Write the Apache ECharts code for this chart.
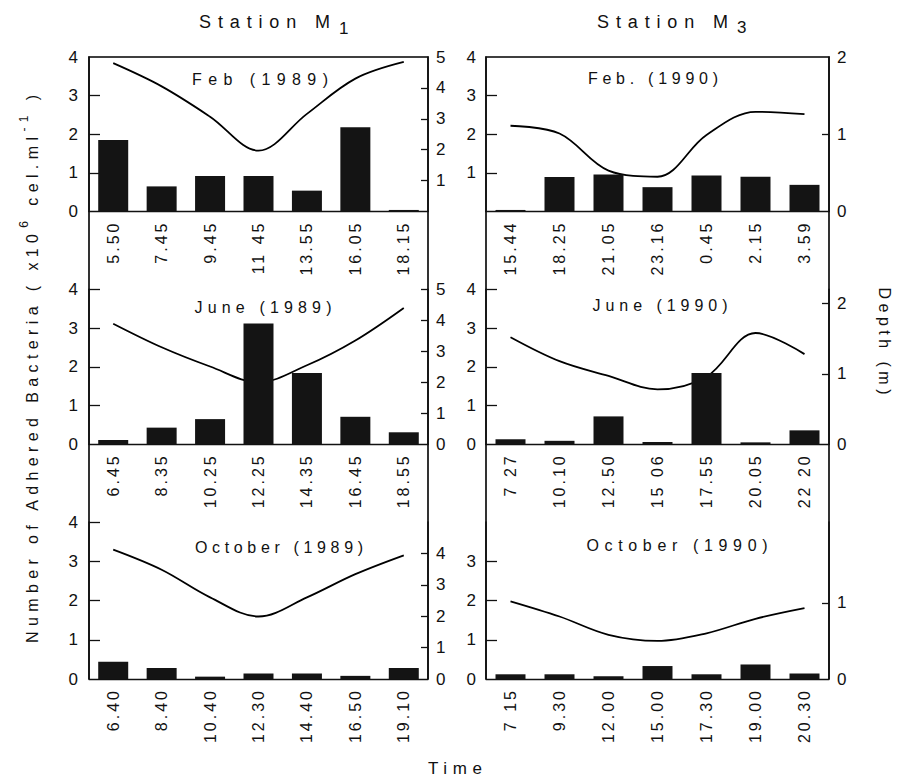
<!DOCTYPE html>
<html>
<head>
<meta charset="utf-8">
<title>Adhered bacteria and depth</title>
<script src="https://cdn.jsdelivr.net/npm/echarts@6.0.0/dist/echarts.min.js"></script>
<style>
html,body{margin:0;padding:0;background:#fff;}
#main{width:905px;height:779px;}
</style>
</head>
<body>
<div id="main"></div>
<script>
// ---------------- data ----------------
const timesM1Feb = ['5.50', '7.45', '9.45', '11 45', '13.55', '16.05', '18.15'];
const bactM1Feb  = [1.85, 0.65, 0.92, 0.92, 0.54, 2.18, 0.04];
const depthM1Feb = [4.8, 4.05, 3.07, 1.97, 3.16, 4.3, 4.84];

const timesM3Feb = ['15.44', '18.25', '21.05', '23.16', '0.45', '2.15', '3.59'];
const bactM3Feb  = [0.04, 0.89, 0.96, 0.63, 0.93, 0.90, 0.69];
const depthM3Feb = [1.11, 1.01, 0.53, 0.45, 0.99, 1.29, 1.26];

const timesM1Jun = ['6.45', '8.35', '10.25', '12.25', '14.35', '16.45', '18.55'];
const bactM1Jun  = [0.11, 0.43, 0.65, 3.12, 1.84, 0.71, 0.31];
const depthM1Jun = [3.89, 3.13, 2.51, 2.0, 2.55, 3.35, 4.4];

const timesM3Jun = ['7 27', '10.10', '12.50', '15 06', '17.55', '20.05', '22 20'];
const bactM3Jun  = [0.13, 0.09, 0.72, 0.06, 1.84, 0.05, 0.36];
const depthM3Jun = [1.52, 1.18, 0.97, 0.78, 0.96, 1.58, 1.28];

const timesM1Oct = ['6.40', '8.40', '10.40', '12.30', '14.40', '16.50', '19.10'];
const bactM1Oct  = [0.44, 0.28, 0.06, 0.14, 0.14, 0.08, 0.28];
const depthM1Oct = [4.12, 3.48, 2.6, 1.99, 2.6, 3.34, 3.94];

const timesM3Oct = ['7 15', '9.30', '12.00', '15.00', '17.30', '19.00', '20.30'];
const bactM3Oct  = [0.12, 0.12, 0.07, 0.33, 0.12, 0.37, 0.14];
const depthM3Oct = [1.02, 0.82, 0.58, 0.5, 0.6, 0.79, 0.93];

const bactTickValues    = [0, 1, 2, 3, 4];
const depthTickValuesM1 = [0, 1, 2, 3, 4, 5];
const depthTickValuesM3 = [0, 1, 2];

const titleM1Feb = 'Feb (1989)';
const titleM3Feb = 'Feb. (1990)';
const titleM1Jun = 'June (1989)';
const titleM3Jun = 'June (1990)';
const titleM1Oct = 'October (1989)';
const titleM3Oct = 'October (1990)';

const stationLabels = ['Station M1', 'Station M3'];
const yTitleParts = ['Number of Adhered Bacteria ( x10', '6', ' cel.ml', '-1', ' )'];
const y2Title = 'Depth (m)';
const xTitle = 'Time';

// ---------------- layout / style ----------------
const FONT = '"Liberation Sans", Arial, Helvetica, sans-serif';
const INK = '#111';
const colLeft = [89, 486], colWidth = [339, 343];
const rowTop = [57, 289.3, 522], rowHeight = [154.5, 155, 157];

const panels = [
  {col: 0, row: 0, times: timesM1Feb, bact: bactM1Feb, depth: depthM1Feb, title: titleM1Feb, depthMax: 5,
   leftLabels: bactTickValues, leftTicks: [1, 2, 3],
   rightLabels: depthTickValuesM1.filter(v => v > 0), rightTicks: [1, 2, 3, 4], tpos: [260, 79, 136]},
  {col: 1, row: 0, times: timesM3Feb, bact: bactM3Feb, depth: depthM3Feb, title: titleM3Feb, depthMax: 2,
   leftLabels: bactTickValues.filter(v => v > 0), leftTicks: [1, 2, 3],
   rightLabels: depthTickValuesM3, rightTicks: [1], tpos: [653, 78, 130]},
  {col: 0, row: 1, times: timesM1Jun, bact: bactM1Jun, depth: depthM1Jun, title: titleM1Jun, depthMax: 5,
   leftLabels: bactTickValues, leftTicks: [1, 2, 3, 4],
   rightLabels: depthTickValuesM1, rightTicks: [1, 2, 3, 4, 5], tpos: [263, 307, 137]},
  {col: 1, row: 1, times: timesM3Jun, bact: bactM3Jun, depth: depthM3Jun, title: titleM3Jun, depthMax: 2.2,
   leftLabels: bactTickValues, leftTicks: [1, 2, 3, 4],
   rightLabels: depthTickValuesM3, rightTicks: [1, 2], tpos: [660, 305, 135]},
  {col: 0, row: 2, times: timesM1Oct, bact: bactM1Oct, depth: depthM1Oct, title: titleM1Oct, depthMax: 5,
   leftLabels: bactTickValues, leftTicks: [1, 2, 3, 4],
   rightLabels: depthTickValuesM1.filter(v => v < 5), rightTicks: [1, 2, 3, 4], tpos: [279, 547, 168]},
  {col: 1, row: 2, times: timesM3Oct, bact: bactM3Oct, depth: depthM3Oct, title: titleM3Oct, depthMax: 2.06,
   leftLabels: bactTickValues.filter(v => v < 4), leftTicks: [1, 2, 3],
   rightLabels: depthTickValuesM3.filter(v => v < 2), rightTicks: [1], tpos: [677, 545, 181]}
];

// text measuring for letter tracking
const mctx = document.createElement('canvas').getContext('2d');
function textW(s, size) { mctx.font = size + 'px "Liberation Sans"'; return mctx.measureText(s).width; }
function trackFor(s, size, target) { return Math.max(0, (target - textW(s, size)) / (s.length - 1)); }
const lsMap = new Map();

const graphics = [];

// column frames (one box per station column, spanning the three panels)
[0, 1].forEach(c => {
  const x0 = colLeft[c], x1 = colLeft[c] + colWidth[c];
  const y0 = rowTop[0], y1 = rowTop[2] + rowHeight[2];
  graphics.push({
    type: 'polyline',
    shape: {points: [[x0, y1], [x0, y0], [x1, y0], [x1, y1]]},
    style: {fill: null, stroke: '#000', lineWidth: 1.6}
  });
});

// station headings
const stationPos = [[199, 21.7, 339, 28.5], [597, 21.7, 737, 27.5]];
stationLabels.forEach((lab, i) => {
  const main = lab.slice(0, -1), sub = lab.slice(-1);
  const ls = trackFor(main, 18, 131);
  lsMap.set(main, ls);
  const p = stationPos[i];
  graphics.push({type: 'text', x: p[0], y: p[1], style: {text: main, font: '18px ' + FONT, fill: INK, textAlign: 'left', textVerticalAlign: 'middle'}});
  graphics.push({type: 'text', x: p[2], y: p[3], style: {text: sub, font: '17px ' + FONT, fill: INK, textAlign: 'left', textVerticalAlign: 'middle'}});
});

// panel titles
panels.forEach(p => {
  const ls = trackFor(p.title, 16, p.tpos[2]);
  lsMap.set(p.title, ls);
  graphics.push({type: 'text', x: p.tpos[0] + ls / 2, y: p.tpos[1], style: {text: p.title, font: '16px ' + FONT, fill: INK, textAlign: 'center', textVerticalAlign: 'middle'}});
});

// left axis title (pieces, with superscripts), reading bottom to top
(function () {
  const sizes = [16, 12, 16, 12, 16];
  let natural = 0, chars = 0;
  yTitleParts.forEach((s, k) => { natural += textW(s, sizes[k]); chars += s.length; });
  const ls = (548 - natural) / (chars - 1);
  let y = 643;
  yTitleParts.forEach((s, k) => {
    const sup = sizes[k] < 16;
    if (s.length > 1) lsMap.set(s, ls);
    graphics.push({type: 'text', x: sup ? 24 : 32, y: y, rotation: Math.PI / 2,
      style: {text: s, font: sizes[k] + 'px ' + FONT, fill: INK, textAlign: 'left', textVerticalAlign: 'middle'}});
    y -= textW(s, sizes[k]) + ls * s.length;
  });
})();

// right axis title
(function () {
  const ls = trackFor(y2Title, 16, 107);
  lsMap.set(y2Title, ls);
  graphics.push({type: 'text', x: 884, y: 341 + ls / 2, rotation: -Math.PI / 2,
    style: {text: y2Title, font: '16px ' + FONT, fill: INK, textAlign: 'center', textVerticalAlign: 'middle'}});
})();

// x axis title
(function () {
  const ls = trackFor(xTitle, 17, 54);
  lsMap.set(xTitle, ls);
  graphics.push({type: 'text', x: 455 + ls / 2, y: 768,
    style: {text: xTitle, font: '17px ' + FONT, fill: INK, textAlign: 'center', textVerticalAlign: 'middle'}});
})();

// ---------------- option ----------------
const grids = panels.map(p => ({
  left: colLeft[p.col], top: rowTop[p.row], width: colWidth[p.col], height: rowHeight[p.row],
  containLabel: false, outerBoundsMode: 'none'
}));

const xAxes = panels.map((p, i) => ({
  type: 'category', gridIndex: i, data: p.times, boundaryGap: true,
  axisLine: {show: true, onZero: false, lineStyle: {color: INK, width: 1.3}},
  axisTick: {show: false},
  splitLine: {show: false},
  axisLabel: {interval: 0, rotate: 90, margin: 9, fontSize: 16, color: INK, fontFamily: FONT}
}));

const yAxes = [];
panels.forEach((p, i) => {
  yAxes.push({
    type: 'value', gridIndex: i, position: 'left', min: 0, max: 4, interval: 1,
    axisLine: {show: true, lineStyle: {color: INK, width: 1.5}},
    axisTick: {show: true, inside: true, length: 11, lineStyle: {color: INK, width: 1.3}, customValues: p.leftTicks},
    axisLabel: {fontSize: 17, color: INK, fontFamily: FONT, margin: p.col === 0 ? 11 : 10, customValues: p.leftLabels},
    splitLine: {show: false}
  });
  yAxes.push({
    type: 'value', gridIndex: i, position: 'right', min: 0, max: p.depthMax, interval: 1,
    axisLine: {show: true, lineStyle: {color: INK, width: 1.5}},
    axisTick: {show: true, inside: true, length: 7, lineStyle: {color: INK, width: 1.3}, customValues: p.rightTicks},
    axisLabel: {fontSize: 17, color: INK, fontFamily: FONT, margin: 8, customValues: p.rightLabels},
    splitLine: {show: false}
  });
});

const series = [];
panels.forEach((p, i) => {
  series.push({
    type: 'line', xAxisIndex: i, yAxisIndex: 2 * i + 1, data: p.depth,
    smooth: 0.35, symbol: 'none', lineStyle: {color: '#000', width: 1.8}, z: 2, silent: true
  });
  series.push({
    type: 'bar', xAxisIndex: i, yAxisIndex: 2 * i, data: p.bact,
    barWidth: 30, itemStyle: {color: '#141414'}, z: 3, silent: true
  });
});

const option = {
  animation: false,
  backgroundColor: '#fff',
  textStyle: {fontFamily: FONT},
  grid: grids,
  xAxis: xAxes,
  yAxis: yAxes,
  series: series,
  graphic: {elements: graphics}
};

const dom = document.getElementById('main');
const chart = echarts.init(dom, null, {renderer: 'svg', width: 905, height: 779});
chart.setOption(option);

function applyTracking() {
  dom.querySelectorAll('text').forEach(t => {
    const s = t.textContent;
    let ls = 0;
    if (lsMap.has(s)) ls = lsMap.get(s);
    else if (/^\d{1,2}[. ]\d{2}$/.test(s)) ls = 3;
    if (ls) {
      t.setAttribute('letter-spacing', ls.toFixed(2));
      t.style.letterSpacing = ls.toFixed(2) + 'px';
    }
  });
}
applyTracking();
chart.on('finished', applyTracking);
</script>
</body>
</html>
